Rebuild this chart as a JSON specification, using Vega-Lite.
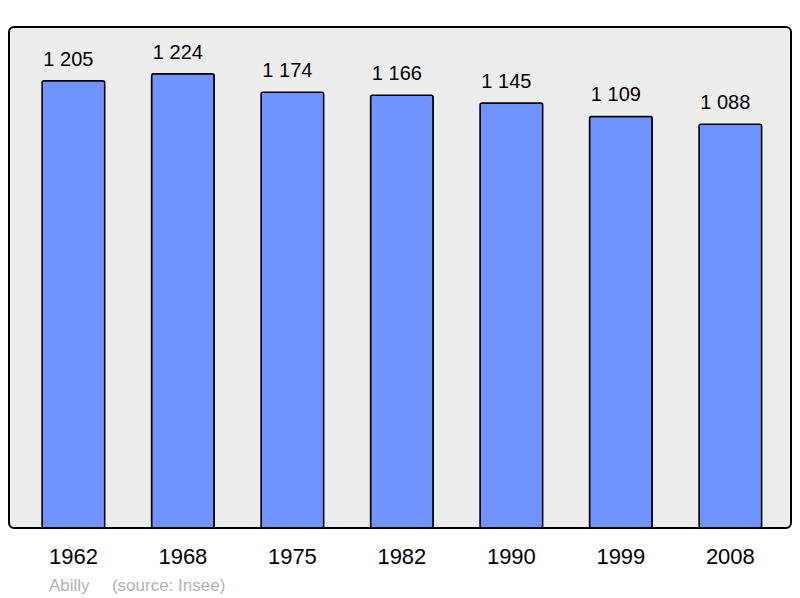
{
  "$schema": "https://vega.github.io/schema/vega-lite/v6.json",
  "width": 782,
  "height": 501,
  "autosize": {"type": "none"},
  "padding": {"left": 9, "top": 27, "right": 9, "bottom": 70},
  "background": "white",
  "config": {
    "locale": {"number": {"decimal": ",", "thousands": "\u00a0", "grouping": [3], "currency": ["", " €"]}},
    "view": {"fill": "#ededed", "stroke": "#000000", "strokeWidth": 2, "cornerRadius": 5},
    "font": "Liberation Sans"
  },
  "title": {
    "text": "Abilly\u00a0\u00a0\u00a0\u00a0\u2009(source: Insee)",
    "orient": "bottom",
    "anchor": "start",
    "dx": 40,
    "offset": 24,
    "baseline": "alphabetic",
    "fontSize": 17,
    "fontWeight": "normal",
    "color": "#b3b3b3",
    "font": "Liberation Sans"
  },
  "data": {
    "values": [
      {"year": "1962", "pop": 1205},
      {"year": "1968", "pop": 1224},
      {"year": "1975", "pop": 1174},
      {"year": "1982", "pop": 1166},
      {"year": "1990", "pop": 1145},
      {"year": "1999", "pop": 1109},
      {"year": "2008", "pop": 1088}
    ]
  },
  "encoding": {
    "x": {
      "field": "year",
      "type": "ordinal",
      "scale": {"paddingInner": 0.428, "paddingOuter": 0.285, "align": 0.53},
      "axis": {
        "title": null,
        "domain": false,
        "ticks": false,
        "grid": false,
        "labelAngle": 0,
        "labelFontSize": 22,
        "labelColor": "#000000",
        "labelPadding": 18,
        "labelFont": "Liberation Sans"
      }
    },
    "y": {
      "field": "pop",
      "type": "quantitative",
      "scale": {"domain": [0, 1350], "nice": false, "zero": true},
      "axis": null
    }
  },
  "layer": [
    {"mark": {"type": "bar", "fill": "#7094ff", "stroke": "#000000", "strokeWidth": 1.5, "cornerRadius": 2}},
    {
      "mark": {"type": "text", "dy": -15, "dx": -5, "baseline": "alphabetic", "fontSize": 20, "color": "#000000", "font": "Liberation Sans"},
      "encoding": {"text": {"field": "pop", "type": "quantitative", "format": ",d"}}
    }
  ]
}
